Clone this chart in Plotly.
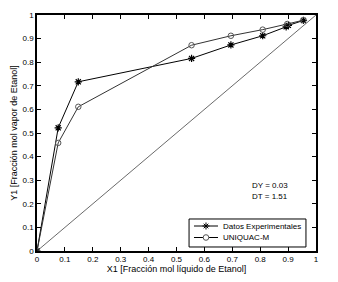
import plotly.graph_objects as go

x_exp = [0.0, 0.076, 0.148, 0.554, 0.695, 0.809, 0.893, 0.901, 0.955]
y_exp = [0.0, 0.522, 0.717, 0.816, 0.873, 0.912, 0.950, 0.956, 0.977]
x_uni = [0.0, 0.076, 0.148, 0.554, 0.695, 0.809, 0.897, 0.955]
y_uni = [0.0, 0.458, 0.611, 0.872, 0.912, 0.938, 0.962, 0.978]
diag = [0.0, 1.0]
ticks = [0, 0.1, 0.2, 0.3, 0.4, 0.5, 0.6, 0.7, 0.8, 0.9, 1]
tick_text = ["0", "0.1", "0.2", "0.3", "0.4", "0.5", "0.6", "0.7", "0.8", "0.9", "1"]
series_names = ["Datos Experimentales", "UNIQUAC-M"]

FONT = "Liberation Sans, Arial"

fig = go.Figure()
fig.add_trace(go.Scatter(x=diag, y=diag, mode="lines",
                         line=dict(color="#444", width=0.8), showlegend=False))
fig.add_trace(go.Scatter(x=x_exp, y=y_exp, mode="lines+markers", name=series_names[0],
                         line=dict(color="black", width=1), showlegend=False,
                         marker=dict(symbol="asterisk-open", size=6, color="black",
                                     line=dict(color="black", width=1.2))))
fig.add_trace(go.Scatter(x=x_uni, y=y_uni, mode="lines+markers", name=series_names[1],
                         line=dict(color="#333", width=1), showlegend=False,
                         marker=dict(symbol="circle-open", size=5.5, color="#555",
                                     line=dict(color="#555", width=1))))

axis_common = dict(range=[0, 1], tickvals=ticks, ticktext=tick_text, ticks="inside",
                   ticklen=4, tickcolor="black", showline=True, linecolor="black",
                   linewidth=1.5, mirror="ticks", showgrid=False, zeroline=False,
                   automargin=False,
                   tickfont=dict(family=FONT, size=8, color="black"))
fig.update_xaxes(**axis_common,
                 title=dict(text="X1 [Fracción mol líquido de Etanol]", standoff=1,
                            font=dict(family=FONT, size=9, color="black")))
fig.update_yaxes(**axis_common,
                 title=dict(text="Y1 [Fracción mol vapor de Etanol]", standoff=3,
                            font=dict(family=FONT, size=9, color="black")))

fig.add_annotation(x=0.907, y=0.248, xref="paper", yref="paper", xanchor="right",
                   text="DY = 0.03", showarrow=False,
                   font=dict(family=FONT, size=8, color="black"))
fig.add_annotation(x=0.907, y=0.205, xref="paper", yref="paper", xanchor="right",
                   text="DT = 1.51", showarrow=False,
                   font=dict(family=FONT, size=8, color="black"))

# compact legend box (MATLAB style)
shapes = [dict(type="rect", xref="paper", yref="paper", x0=0.545, x1=0.964, y0=0.017, y1=0.1356,
               line=dict(color="black", width=1), fillcolor="white", layer="above")]
leg_y = [0.1059, 0.0572]
for yy in leg_y:
    shapes.append(dict(type="line", xref="paper", yref="paper", x0=0.5627, x1=0.6487,
                       y0=yy, y1=yy, line=dict(color="black", width=1), layer="above"))
mx = 0.6057
# asterisk marker sample
for (dx0, dy0, dx1, dy1) in [(-3.5, 0, 3.5, 0), (0, -3.5, 0, 3.5), (-2.3, -2.3, 2.3, 2.3), (-2.3, 2.3, 2.3, -2.3)]:
    shapes.append(dict(type="line", xref="paper", yref="paper",
                       xsizemode="pixel", ysizemode="pixel", xanchor=mx, yanchor=leg_y[0],
                       x0=dx0, x1=dx1, y0=dy0, y1=dy1,
                       line=dict(color="black", width=1), layer="above"))
shapes.append(dict(type="circle", xref="paper", yref="paper",
                   xsizemode="pixel", ysizemode="pixel", xanchor=mx, yanchor=leg_y[1],
                   x0=-2.8, x1=2.8, y0=-2.8, y1=2.8, fillcolor="white",
                   line=dict(color="#555", width=1), layer="above"))
for name, yy in zip(series_names, leg_y):
    fig.add_annotation(x=0.6595, y=yy, xref="paper", yref="paper", xanchor="left",
                       yanchor="middle", text=name, showarrow=False,
                       font=dict(family=FONT, size=8, color="black"))

fig.update_layout(
    width=338, height=282,
    margin=dict(l=37, r=22, t=15, b=31, autoexpand=False),
    paper_bgcolor="white", plot_bgcolor="white",
    shapes=shapes, showlegend=False,
)
fig.write_html("out.html", config={"displayModeBar": False},
               post_script="document.body.style.margin='0';")
